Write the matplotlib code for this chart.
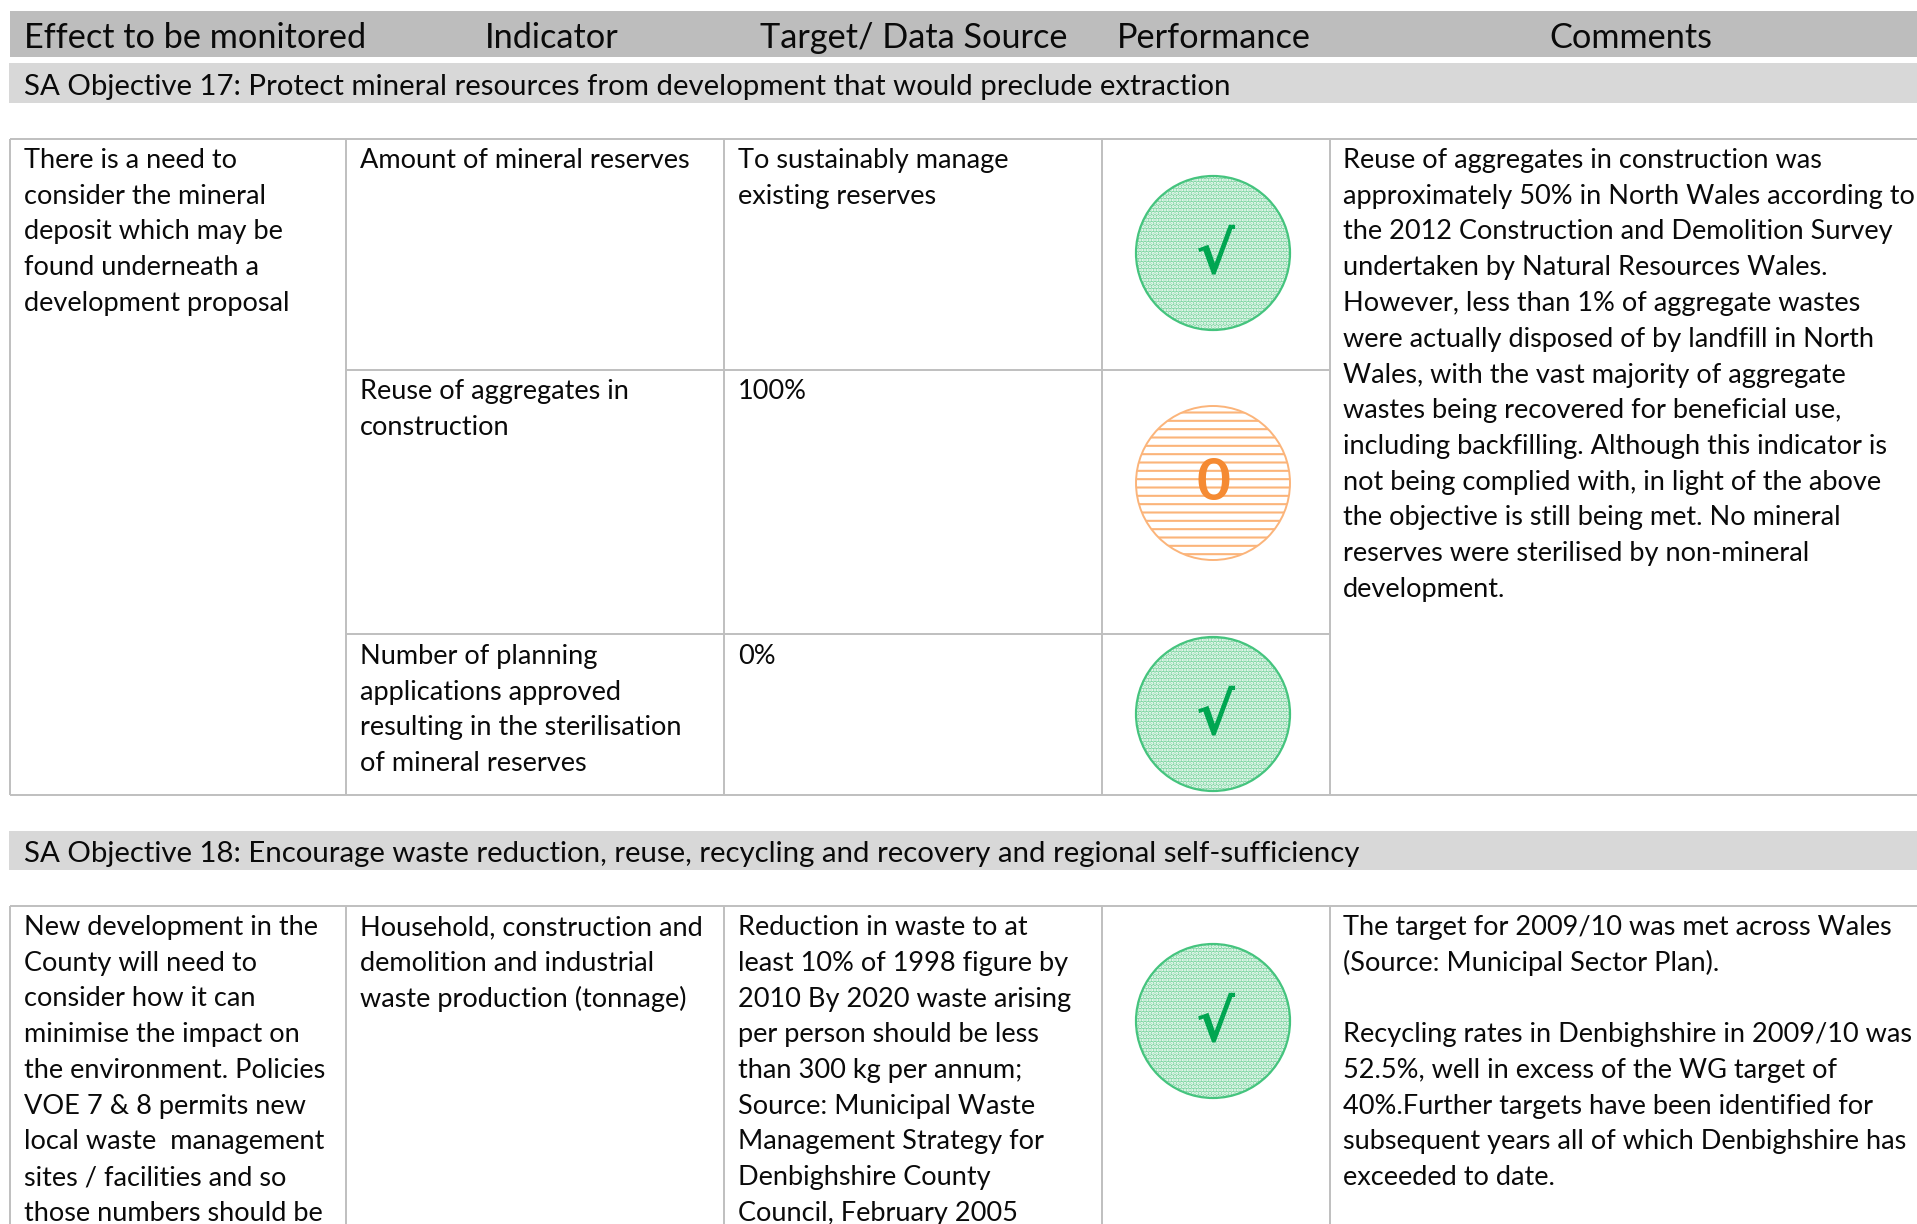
import matplotlib
matplotlib.use('Agg')
import matplotlib.pyplot as plt
from matplotlib.patches import Circle, Rectangle

plt.rcParams['font.family'] = ['Lato', 'DejaVu Sans']
plt.rcParams['hatch.linewidth'] = 1.5

# header row
header_labels = ['Effect to be monitored', 'Indicator', 'Target/ Data Source', 'Performance', 'Comments']
header_x = [24, 485, 760, 1117, 1549]

objective_17 = 'SA Objective 17: Protect mineral resources from development that would preclude extraction'
objective_18 = 'SA Objective 18: Encourage waste reduction, reuse, recycling and recovery and regional self-sufficiency'

# table 1 text
effect_17 = ['There is a need to', 'consider the mineral', 'deposit which may be',
             'found underneath a', 'development proposal']
indicators_17 = [['Amount of mineral reserves'],
                 ['Reuse of aggregates in', 'construction'],
                 ['Number of planning', 'applications approved',
                  'resulting in the sterilisation', 'of mineral reserves']]
targets_17 = [['To sustainably manage', 'existing reserves'], ['100%'], ['0%']]
performance_17 = ['met', 'neutral', 'met']
comments_17 = ['Reuse of aggregates in construction was',
               'approximately 50% in North Wales according to',
               'the 2012 Construction and Demolition Survey',
               'undertaken by Natural Resources Wales.',
               'However, less than 1% of aggregate wastes',
               'were actually disposed of by landfill in North',
               'Wales, with the vast majority of aggregate',
               'wastes being recovered for beneficial use,',
               'including backfilling. Although this indicator is',
               'not being complied with, in light of the above',
               'the objective is still being met. No mineral',
               'reserves were sterilised by non-mineral',
               'development.']

# table 2 text
effect_18 = ['New development in the', 'County will need to', 'consider how it can',
             'minimise the impact on', 'the environment. Policies', 'VOE 7 & 8 permits new',
             'local waste  management', 'sites / facilities and so', 'those numbers should be']
indicators_18 = ['Household, construction and', 'demolition and industrial', 'waste production (tonnage)']
targets_18 = ['Reduction in waste to at', 'least 10% of 1998 figure by', '2010 By 2020 waste arising',
              'per person should be less', 'than 300 kg per annum;', 'Source: Municipal Waste',
              'Management Strategy for', 'Denbighshire County', 'Council, February 2005']
comments_18 = ['The target for 2009/10 was met across Wales', '(Source: Municipal Sector Plan).', '',
               'Recycling rates in Denbighshire in 2009/10 was', '52.5%, well in excess of the WG target of',
               '40%.Further targets have been identified for', 'subsequent years all of which Denbighshire has',
               'exceeded to date.']

W, H = 1917, 1224
COL_X = [24, 360, 738, 1343]
COL_LINES = [346, 724, 1102, 1330]
LINE_H = 35.75
FS = 19.55
GRID = '#bfbfbf'

fig = plt.figure(figsize=(W / 100, H / 100), dpi=100)
ax = fig.add_axes([0, 0, 1, 1])
ax.set_xlim(0, W)
ax.set_ylim(H, 0)
ax.axis('off')


def write(x, y, lines, size=FS):
    # y is the baseline of the first line
    for i, line in enumerate(lines):
        ax.text(x, y + i * LINE_H, line, fontsize=size, va='baseline', ha='left', color='#0a0a0a')


def badge(cy, kind):
    cx, r = 1213, 77
    if kind == 'met':
        ax.add_patch(Circle((cx, cy), r, facecolor='#7fd6a3', edgecolor='white', hatch='.....', lw=0))
        ax.add_patch(Circle((cx, cy), r, facecolor='none', edgecolor='#45c47e', lw=1.6))
        ax.text(cx + 2, cy + 3, '√', fontsize=42, color='#00a651', ha='center', va='center',
                family='DejaVu Sans', fontweight='bold')
    else:
        ax.add_patch(Circle((cx, cy), r, facecolor='white', edgecolor='#fbb47a', hatch='--', lw=0))
        ax.add_patch(Circle((cx, cy), r, facecolor='none', edgecolor='#fbb47a', lw=1.4))
        ax.text(cx, cy, '0', fontsize=42, color='#f58a32', ha='center', va='center', fontweight='bold')


# grey bands
ax.add_patch(Rectangle((10, 11), W - 10, 46, color='#bdbdbd', lw=0))
ax.add_patch(Rectangle((9, 63), W - 9, 40, color='#d8d8d8', lw=0))
ax.add_patch(Rectangle((9, 831), W - 9, 39, color='#d8d8d8', lw=0))

for label, x in zip(header_labels, header_x):
    ax.text(x, 48, label, fontsize=24.7, va='baseline', ha='left', color='#0a0a0a')
ax.text(24, 95, objective_17, fontsize=21.2, va='baseline', color='#0a0a0a')
ax.text(24, 862, objective_18, fontsize=21.15, va='baseline', color='#0a0a0a')

# table 1 rules
for y, x0 in [(139, 10), (795, 10), (370, 346), (634, 346)]:
    x1 = W if y in (139, 795) else COL_LINES[3]
    ax.plot([x0, x1], [y, y], color=GRID, lw=1.4, solid_capstyle='butt')
for x in [10] + COL_LINES:
    ax.plot([x, x], [139, 795], color=GRID, lw=1.4, solid_capstyle='butt')

# table 2 rules
ax.plot([10, W], [906, 906], color=GRID, lw=1.4, solid_capstyle='butt')
for x in [10] + COL_LINES:
    ax.plot([x, x], [906, H], color=GRID, lw=1.4, solid_capstyle='butt')

row_y = [168, 399, 664]
write(COL_X[0], row_y[0], effect_17)
for y, ind, tgt in zip(row_y, indicators_17, targets_17):
    write(COL_X[1], y, ind)
    write(COL_X[2], y, tgt)
write(COL_X[3], row_y[0], comments_17)

y2 = 935
write(COL_X[0], y2, effect_18)
write(COL_X[1], y2, indicators_18)
write(COL_X[2], y2, targets_18)
write(COL_X[3], y2, comments_18)

for cy, kind in zip([253, 483, 714], performance_17):
    badge(cy, kind)
badge(1021, 'met')

fig.savefig('out.png', dpi=100)
